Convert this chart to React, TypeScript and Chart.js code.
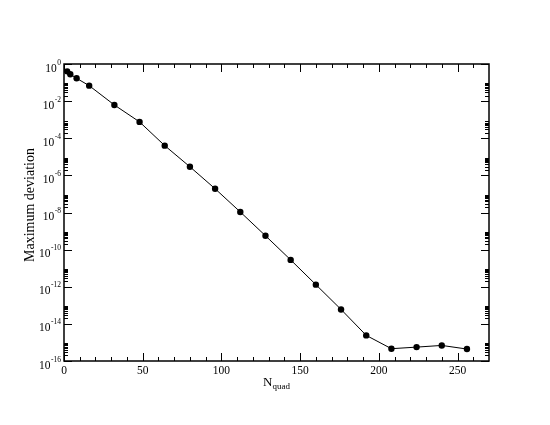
import React, { useEffect, useRef } from "react";
import { Chart, registerables } from "chart.js";

Chart.register(...registerables);

const nQuad = [2, 4, 8, 16, 32, 48, 64, 80, 96, 112, 128, 144, 160, 176, 192, 208, 224, 240, 256];
const maxDeviation = [
  0.40, 0.28, 0.17, 0.068, 6.2e-3, 7.6e-4, 4.0e-5, 2.9e-6, 1.9e-7, 1.07e-8,
  5.6e-10, 2.8e-11, 1.3e-12, 6e-14, 2.4e-15, 4.6e-16, 5.6e-16, 6.9e-16, 4.4e-16,
];
const xMajorTicks = [0, 50, 100, 150, 200, 250];
const xMinorTicks = [10, 20, 30, 40, 60, 70, 80, 90, 110, 120, 130, 140, 160, 170, 180, 190, 210, 220, 230, 240, 260];
const yMajorExponents = [0, -2, -4, -6, -8, -10, -12, -14, -16];
const yMinorMultipliers = [2, 3, 4, 5, 6, 7, 8, 9];
const xTitleMain = "N";
const xTitleSub = "quad";
const yTitle = "Maximum deviation";

const FONT = "'Liberation Serif', 'Times New Roman', serif";

const axesPlugin = {
  id: "graceAxes",
  beforeDatasetsDraw(chart: any) {
    const { ctx, chartArea, scales } = chart;
    const xs = scales.x;
    const ys = scales.y;
    const { left, right, top, bottom } = chartArea;
    ctx.save();
    ctx.strokeStyle = "#000";
    ctx.fillStyle = "#000";
    ctx.lineWidth = 1;
    const MAJ = 8;
    const MIN = 4;
    ctx.beginPath();
    const xt = (v: number, len: number) => {
      const px = Math.round(xs.getPixelForValue(v)) + 0.5;
      ctx.moveTo(px, bottom);
      ctx.lineTo(px, bottom - len);
      ctx.moveTo(px, top);
      ctx.lineTo(px, top + len);
    };
    const yt = (v: number, len: number) => {
      const py = Math.round(ys.getPixelForValue(v)) + 0.5;
      ctx.moveTo(left, py);
      ctx.lineTo(left + len, py);
      ctx.moveTo(right, py);
      ctx.lineTo(right - len, py);
    };
    xMajorTicks.forEach((v) => xt(v, MAJ));
    xMinorTicks.forEach((v) => xt(v, MIN));
    yMajorExponents.forEach((e) => yt(Math.pow(10, e), MAJ));
    yMajorExponents.forEach((e) => {
      if (e <= -2) yMinorMultipliers.forEach((k) => yt(k * Math.pow(10, e), MIN));
    });
    ctx.stroke();

    // frame
    ctx.lineWidth = 1.5;
    ctx.strokeRect(left, top, right - left, bottom - top);

    // x labels
    ctx.font = `11.5px ${FONT}`;
    ctx.textAlign = "center";
    ctx.textBaseline = "alphabetic";
    xMajorTicks.forEach((v) => {
      ctx.fillText(String(v), xs.getPixelForValue(v), bottom + 12.5);
    });

    // y labels 10^e
    yMajorExponents.forEach((e) => {
      const py = ys.getPixelForValue(Math.pow(10, e));
      ctx.font = `11.5px ${FONT}`;
      const bw = ctx.measureText("10").width;
      ctx.font = `7.5px ${FONT}`;
      const sup = String(e);
      const sw = ctx.measureText(sup).width;
      const endX = left - 3;
      const startX = endX - sw - bw - 0.5;
      ctx.textAlign = "left";
      ctx.font = `11.5px ${FONT}`;
      ctx.fillText("10", startX, py + 7.5);
      ctx.font = `7.5px ${FONT}`;
      ctx.fillText(sup, startX + bw + 0.5, py + 0.5);
    });

    // x title
    ctx.font = `13px ${FONT}`;
    const nw = ctx.measureText(xTitleMain).width;
    ctx.font = `9px ${FONT}`;
    const qw = ctx.measureText(xTitleSub).width;
    const cx = (left + right) / 2;
    const sx = cx - (nw + qw) / 2;
    ctx.textAlign = "left";
    ctx.font = `13px ${FONT}`;
    ctx.fillText(xTitleMain, sx, bottom + 24.5);
    ctx.font = `9px ${FONT}`;
    ctx.fillText(xTitleSub, sx + nw, bottom + 28);

    // y title
    ctx.save();
    ctx.translate(33.5, 205);
    ctx.rotate(-Math.PI / 2);
    ctx.font = `14px ${FONT}`;
    ctx.textAlign = "center";
    ctx.fillText(yTitle, 0, 0);
    ctx.restore();

    ctx.restore();
  },
};

export default function App() {
  const ref = useRef<HTMLCanvasElement | null>(null);
  useEffect(() => {
    if (!ref.current) return;
    const chart = new Chart(ref.current, {
      type: "line",
      data: {
        datasets: [
          {
            data: nQuad.map((x, i) => ({ x, y: maxDeviation[i] })),
            borderColor: "#000",
            borderWidth: 1,
            backgroundColor: "#000",
            pointRadius: 3.2,
            pointBorderWidth: 0,
            pointBackgroundColor: "#000",
            tension: 0,
            fill: false,
          },
        ],
      },
      options: {
        responsive: false,
        animation: false,
        devicePixelRatio: 1,
        layout: { padding: { left: 64, right: 61, top: 64, bottom: 64 } },
        plugins: { legend: { display: false }, tooltip: { enabled: false } },
        scales: {
          x: { type: "linear", min: 0, max: 270, display: false },
          y: { type: "logarithmic", min: 1e-16, max: 1, display: false },
        },
      },
      plugins: [axesPlugin],
    });
    return () => chart.destroy();
  }, []);
  return (
    <div style={{ position: "fixed", left: 0, top: 0, width: 550, height: 425, background: "#fff" }}>
      <canvas ref={ref} width={550} height={425} style={{ width: 550, height: 425 }} />
    </div>
  );
}
